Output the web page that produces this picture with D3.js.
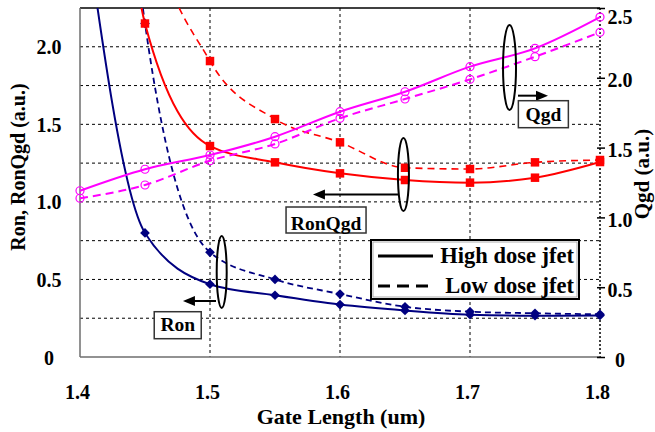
<!DOCTYPE html>
<html><head><meta charset="utf-8">
<script src="https://cdn.jsdelivr.net/npm/d3@7"></script>
<style>body{margin:0;background:#fff} svg{display:block} text{font-family:"Liberation Serif","Times New Roman",serif;font-weight:bold;fill:#000}</style>
</head><body><svg id="c" width="655" height="432"></svg>
<script>
// ---- data ----
const gateLength = [1.4, 1.45, 1.5, 1.55, 1.6, 1.65, 1.7, 1.75, 1.8];
const ronHigh    = [3.05, 0.80, 0.469, 0.398, 0.338, 0.300, 0.273, 0.266, 0.268];
const ronLow     = [7.0, 2.15, 0.675, 0.500, 0.406, 0.324, 0.292, 0.282, 0.275];
const ronQgdHigh = [7.0, 2.15, 1.36, 1.255, 1.184, 1.141, 1.124, 1.156, 1.257];
const ronQgdLow  = [8.0, 3.0, 1.908, 1.534, 1.384, 1.22, 1.212, 1.255, 1.27];
const qgdHigh    = [1.191, 1.345, 1.447, 1.578, 1.757, 1.90, 2.08, 2.211, 2.435];
const qgdLow     = [1.137, 1.232, 1.406, 1.526, 1.71, 1.848, 1.989, 2.151, 2.326];
const xTicks     = [1.4, 1.5, 1.6, 1.7, 1.8];
const leftTicks  = [0, 0.5, 1.0, 1.5, 2.0];
const leftGrid   = [0.25, 0.5, 0.75, 1.0, 1.25, 1.5, 1.75, 2.0];
const rightTicks = [0, 0.5, 1.0, 1.5, 2.0, 2.5];
const legendLabels = ["High dose jfet", "Low dose jfet"];

// ---- layout ----
const svg = d3.select("#c");
const L = 80, R = 600, T = 8, B = 357;
const x = d3.scaleLinear().domain([1.4, 1.8]).range([L, R]);
const yL = d3.scaleLinear().domain([0, 2.25]).range([B, T]);
const yR = d3.scaleLinear().domain([0, 2.5]).range([B, T]);
const fmt = d => d === 0 ? "0" : d3.format(".1f")(d);

// grid
const grid = svg.append("g");
grid.selectAll("line.h").data(leftGrid).join("line")
  .attr("x1", L).attr("x2", R).attr("y1", d => yL(d)).attr("y2", d => yL(d))
  .attr("stroke", "#000").attr("stroke-width", 1).attr("stroke-dasharray", "3,3");
grid.selectAll("line.v").data(xTicks.slice(1, 4)).join("line")
  .attr("x1", d => x(d)).attr("x2", d => x(d)).attr("y1", T).attr("y2", B)
  .attr("stroke", "#000").attr("stroke-width", 1).attr("stroke-dasharray", "3,3");
// right border (dotted)
svg.append("line").attr("x1", R).attr("x2", R).attr("y1", T).attr("y2", B)
  .attr("stroke", "#000").attr("stroke-width", 1.5).attr("stroke-dasharray", "2,2");
// top, left, bottom borders
svg.append("line").attr("x1", L).attr("x2", R).attr("y1", T).attr("y2", T).attr("stroke", "#000").attr("stroke-width", 1.5);
svg.append("line").attr("x1", L).attr("x2", L).attr("y1", T).attr("y2", B).attr("stroke", "#6e6e6e").attr("stroke-width", 1.5);
svg.append("line").attr("x1", L).attr("x2", R).attr("y1", B).attr("y2", B).attr("stroke", "#6e6e6e").attr("stroke-width", 1.5);

// axes
const ax = svg.append("g").attr("transform", `translate(0,${B})`)
  .call(d3.axisBottom(x).tickValues(xTicks).tickFormat(d3.format(".1f")).tickSize(0));
ax.select(".domain").remove();
ax.selectAll("text").attr("y", 0).attr("dy", 42).attr("dx", -3).attr("font-size", 20)
  .style("font-family", '"Liberation Serif",serif').style("font-weight", "bold");

const al = svg.append("g").attr("transform", `translate(${L},0)`)
  .call(d3.axisLeft(yL).tickValues(leftTicks).tickFormat(fmt).tickSize(0));
al.select(".domain").remove();
al.selectAll("text").attr("x", -31).attr("dy", "0.35em").attr("text-anchor", "middle").attr("font-size", 20)
  .style("font-family", '"Liberation Serif",serif').style("font-weight", "bold");

const ar = svg.append("g").attr("transform", `translate(${R},0)`)
  .call(d3.axisRight(yR).tickValues(rightTicks).tickFormat(fmt).tickSize(5));
ar.select(".domain").remove();
ar.selectAll(".tick line").attr("x1", -3).attr("stroke", "#000").attr("stroke-width", 1.5);
ar.selectAll("text").attr("x", 20).attr("dy", d => d === 2.5 ? "0.75em" : "0.45em").attr("text-anchor", "middle").attr("font-size", 20)
  .style("font-family", '"Liberation Serif",serif').style("font-weight", "bold");

// titles
svg.append("text").attr("x", 341).attr("y", 424).attr("text-anchor", "middle").attr("font-size", 22).text("Gate Length (um)");
svg.append("text").attr("transform", "translate(25,167) rotate(-90)").attr("text-anchor", "middle").attr("font-size", 20).text("Ron, RonQgd (a.u.)");
svg.append("text").attr("transform", "translate(649,174) rotate(-90)").attr("text-anchor", "middle").attr("font-size", 21).text("Qgd (a.u.)");

// clip
svg.append("clipPath").attr("id", "clip").append("rect").attr("x", 60).attr("y", T).attr("width", 560).attr("height", B - T);
const plot = svg.append("g").attr("clip-path", "url(#clip)");

const series = [
  {vals: ronHigh, y: yL, color: "#000080", dash: null, w: 2, marker: "diamond"},
  {vals: ronLow, y: yL, color: "#000080", dash: "6,4", w: 1.8, marker: "diamond"},
  {vals: ronQgdHigh, y: yL, color: "#ff0000", dash: null, w: 2, marker: "square"},
  {vals: ronQgdLow, y: yL, color: "#ff0000", dash: "7,5", w: 1.6, marker: "square"},
  {vals: qgdHigh, y: yR, color: "#ff00ff", dash: null, w: 2, marker: "circle"},
  {vals: qgdLow, y: yR, color: "#ff00ff", dash: "8,5", w: 2, marker: "circle"}
];
series.forEach(s => {
  const line = d3.line().x((d, i) => x(gateLength[i])).y(d => s.y(d)).curve(d3.curveMonotoneX);
  plot.append("path").datum(s.vals).attr("d", line).attr("fill", "none")
    .attr("stroke", s.color).attr("stroke-width", s.w).attr("stroke-dasharray", s.dash);
});
series.forEach(s => {
  const g = plot.append("g");
  const pts = s.vals.map((v, i) => [x(gateLength[i]), s.y(v)]);
  if (s.marker === "circle") {
    g.selectAll("circle").data(pts).join("circle").attr("cx", d => d[0]).attr("cy", d => d[1]).attr("r", 4)
      .attr("fill", "none").attr("stroke", s.color).attr("stroke-width", 1.2);
  } else {
    const sym = d3.symbol().type(s.marker === "square" ? d3.symbolSquare : d3.symbolDiamond2).size(s.marker === "square" ? 72 : 60);
    g.selectAll("path").data(pts).join("path").attr("transform", d => `translate(${d[0]},${d[1]})`)
      .attr("d", sym()).attr("fill", s.color);
  }
});

// annotations (ellipse + arrow + labelled box), anchored in data units
const notes = [
  {label: "Ron", y: yL, ex: 1.509, ey: 0.548, rx: 5, ry: 36, ax1: 1.5046, ax2: 1.4792, ay: 0.361,
   bx: 1.4571, by: 0.292, bw: 47, bh: 27, tb: 19.5},
  {label: "RonQgd", y: yL, ex: 1.6488, ey: 1.1766, rx: 5.5, ry: 36.5, ax1: 1.6446, ax2: 1.5792, ay: 1.0477,
   bx: 1.5585, by: 0.967, bw: 80, bh: 26, tb: 22.5},
  {label: "Qgd", y: yR, ex: 1.7304, ey: 2.0738, rx: 6.5, ry: 42.5, ax1: 1.7369, ax2: 1.76, ay: 1.872,
   bx: 1.7372, by: 1.836, bw: 50, bh: 27, tb: 20.5}
];
notes.forEach(n => {
  svg.append("ellipse").attr("cx", x(n.ex)).attr("cy", n.y(n.ey)).attr("rx", n.rx).attr("ry", n.ry)
    .attr("fill", "none").attr("stroke", "#000").attr("stroke-width", 2);
  const x1 = x(n.ax1), x2 = x(n.ax2), ay = n.y(n.ay), dir = Math.sign(x2 - x1);
  svg.append("line").attr("x1", x1).attr("x2", x2 - dir * 8).attr("y1", ay).attr("y2", ay)
    .attr("stroke", "#000").attr("stroke-width", 2);
  svg.append("path").attr("d", `M${x2},${ay} L${x2 - dir * 12},${ay - 5} L${x2 - dir * 12},${ay + 5} Z`).attr("fill", "#000");
  const bx = x(n.bx), by = n.y(n.by);
  svg.append("rect").attr("x", bx).attr("y", by).attr("width", n.bw).attr("height", n.bh)
    .attr("fill", "#fff").attr("stroke", "#333").attr("stroke-width", 1.5);
  svg.append("text").attr("x", bx + n.bw / 2).attr("y", by + n.tb).attr("text-anchor", "middle")
    .attr("font-size", 19.5).text(n.label);
});

// legend
const lg = svg.append("g");
lg.append("rect").attr("x", 371).attr("y", 240).attr("width", 208).attr("height", 59)
  .attr("fill", "#fff").attr("stroke", "#000").attr("stroke-width", 2);
lg.append("rect").attr("x", 373).attr("y", 242).attr("width", 204).attr("height", 55)
  .attr("fill", "none").attr("stroke", "#999").attr("stroke-width", 0.8);
legendLabels.forEach((t, i) => {
  const yy = 256 + i * 30;
  lg.append("line").attr("x1", 378).attr("x2", i ? 428 : 433).attr("y1", yy).attr("y2", yy)
    .attr("stroke", "#000").attr("stroke-width", 3).attr("stroke-dasharray", i ? "12,7" : null);
  lg.append("text").attr("x", 574).attr("y", yy + 6.5).attr("text-anchor", "end").attr("font-size", 22.5).text(t);
});
</script></body></html>
